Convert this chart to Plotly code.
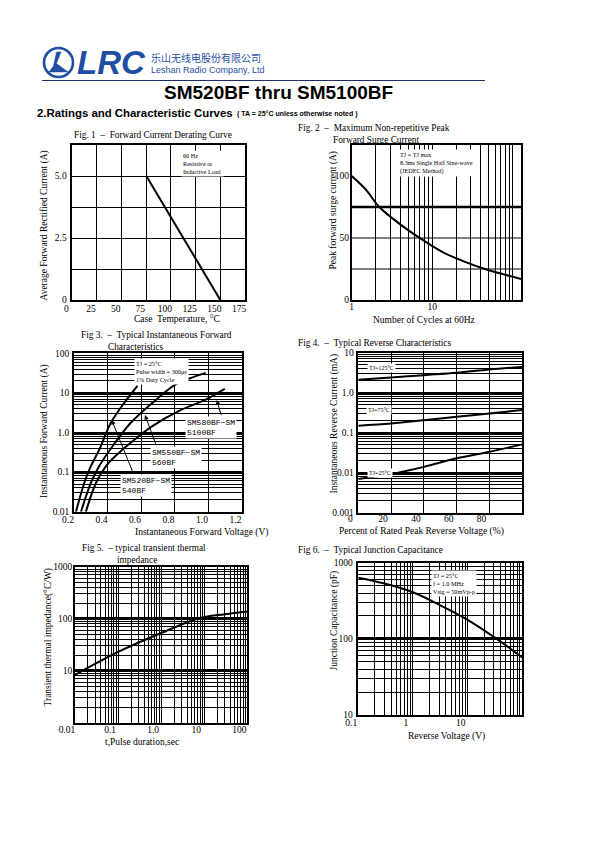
import plotly.graph_objects as go

W, H = 595, 842
def px(v): return v / W
def py(v): return 1 - v / H

# ---------------- data ----------------
FIG1_CASE_TEMP = [75, 150]
FIG1_IO = [5.0, 0.0]
FIG1_XTICKS = [0, 25, 50, 75, 100, 125, 150, 175]
FIG1_YTICKS = [0, 2.5, 5.0]
FIG1_YTICK_TEXT = ['0', '2.5', '5.0']

FIG2_CYCLES = [1, 1.5, 2.2, 4, 7, 14, 25, 45, 80, 126]
FIG2_IFSM = [100, 89, 75, 61, 50, 38, 31, 25, 20.4, 17]
FIG2_XTICKS = [1, 10]
FIG2_YTICKS = [0, 50, 100]

FIG3_VF_520 = [0.212, 0.261, 0.30, 0.351, 0.42, 0.50, 0.579]
FIG3_IF_520 = [0.01, 0.053, 0.14, 0.37, 1.76, 5.6, 15]
FIG3_VF_550 = [0.242, 0.30, 0.35, 0.43, 0.539, 0.668, 0.807, 0.90, 0.986]
FIG3_IF_550 = [0.01, 0.053, 0.14, 0.45, 1.76, 5.6, 16.4, 24, 32]
FIG3_VF_580 = [0.271, 0.331, 0.39, 0.47, 0.549, 0.668, 0.827, 0.986, 1.10]
FIG3_IF_580 = [0.01, 0.053, 0.14, 0.31, 0.6, 1.45, 3.5, 6.8, 12.7]
FIG3_XTICKS = [0.2, 0.4, 0.6, 0.8, 1.0, 1.2]
FIG3_XTICK_TEXT = ['0.2', '0.4', '0.6', '0.8', '1.0', '1.2']
FIG3_YTICKS = [0.01, 0.1, 1, 10, 100]
FIG3_YTICK_TEXT = ['0.01', '0.1', '1.0', '10', '100']

FIG4_PCT = [0, 20, 40, 60, 80, 100]
FIG4_IR_125 = [2.1, 2.4, 2.75, 3.15, 3.8, 4.4]
FIG4_IR_75 = [0.15, 0.17, 0.205, 0.25, 0.30, 0.37]
FIG4_IR_25 = [0.007, 0.0093, 0.014, 0.023, 0.0335, 0.051]
FIG4_XTICKS = [0, 20, 40, 60, 80, 100]
FIG4_XTICK_TEXT = ['0', '20', '40', '60', '80', '']
FIG4_YTICKS = [0.001, 0.01, 0.1, 1, 10]
FIG4_YTICK_TEXT = ['0.001', '0.01', '0.1', '1.0', '10']

FIG5_T = [0.01, 0.06, 0.1, 1, 7, 30, 100]
FIG5_ZTH = [8.3, 18.6, 23, 53, 100, 122, 138]
FIG5_XTICKS = [0.01, 0.1, 1, 10, 100]
FIG5_XTICK_TEXT = ['0.01', '0.1', '1.0', '10', '100']
FIG5_YTICKS = [1, 10, 100, 1000]
FIG5_YTICK_TEXT = ['', '10', '100', '1000']

FIG6_VR = [0.1, 0.29, 1, 3.1, 10, 34, 100]
FIG6_CJ = [636, 536, 409, 278, 178, 100, 57]
FIG6_XTICKS = [0.1, 1, 10, 100]
FIG6_XTICK_TEXT = ['0.1', '1', '10', '']
FIG6_YTICKS = [10, 100, 1000]
FIG6_YTICK_TEXT = ['10', '100', '1000']

# ---------------- styling helpers ----------------
SERIF = 'Liberation Serif'
SANS = 'Liberation Sans'
BLACK = '#000000'
BLUE = '#1f4fa3'


def log_minor(lo, hi):
    return [k * 10 ** e for e in range(lo, hi) for k in range(2, 10)]


def make_axis(dom, anchor, rng, tickvals, ticktext=None, log=False, grid=True,
              gw=1.0, minor=None, mgw=1.0, shift=0, standoff=0):
    ax = dict(domain=dom, anchor=anchor, range=rng, automargin=False,
              type='log' if log else 'linear',
              tickmode='array', tickvals=tickvals,
              ticktext=ticktext if ticktext is not None else [str(v) for v in tickvals],
              showgrid=grid, gridcolor=BLACK, gridwidth=gw,
              showline=True, mirror=True, linecolor=BLACK, linewidth=1.5,
              ticks='', ticklen=0, zeroline=False, fixedrange=True,
              tickfont=dict(family=SERIF, size=9.5, color=BLACK),
              ticklabelstandoff=standoff)
    if shift:
        ax['ticklabelshift'] = shift
    if minor is not None:
        ax['minor'] = dict(tickmode='array', tickvals=minor, showgrid=True,
                           gridcolor=BLACK, gridwidth=mgw, ticks='')
    return ax


def xd(a, b): return [px(a), px(b)]
def yd(top, bottom): return [py(bottom), py(top)]


fig = go.Figure()
line = dict(color=BLACK, width=2)

fig.add_trace(go.Scatter(x=FIG1_CASE_TEMP, y=FIG1_IO, mode='lines', line=line,
                         xaxis='x', yaxis='y', showlegend=False))
fig.add_trace(go.Scatter(x=FIG2_CYCLES, y=FIG2_IFSM, mode='lines', line=line,
                         line_shape='spline', xaxis='x2', yaxis='y2', showlegend=False))
for vx, iy in [(FIG3_VF_520, FIG3_IF_520), (FIG3_VF_550, FIG3_IF_550), (FIG3_VF_580, FIG3_IF_580)]:
    fig.add_trace(go.Scatter(x=vx, y=iy, mode='lines', line=line, line_shape='spline',
                             xaxis='x3', yaxis='y3', showlegend=False))
for ir in [FIG4_IR_125, FIG4_IR_75, FIG4_IR_25]:
    fig.add_trace(go.Scatter(x=FIG4_PCT, y=ir, mode='lines', line=line, line_shape='spline',
                             xaxis='x4', yaxis='y4', showlegend=False))
fig.add_trace(go.Scatter(x=FIG5_T, y=FIG5_ZTH, mode='lines', line=line, line_shape='spline',
                         xaxis='x5', yaxis='y5', showlegend=False))
fig.add_trace(go.Scatter(x=FIG6_VR, y=FIG6_CJ, mode='lines', line=line, line_shape='spline',
                         xaxis='x6', yaxis='y6', showlegend=False))

layout = dict(
    template='none',
    width=W, height=H, margin=dict(l=0, r=0, t=0, b=0, pad=0), autosize=False,
    paper_bgcolor='white', plot_bgcolor='white', showlegend=False,
    xaxis=make_axis(xd(72.3, 245), 'y', [0, 175], FIG1_XTICKS, gw=1.2, shift=-6, standoff=-1),
    yaxis=make_axis(yd(145, 300), 'x', [0, 6.25], FIG1_YTICKS, FIG1_YTICK_TEXT, gw=1.2,
                    minor=[1.25, 3.75], mgw=1.2, standoff=2),
    xaxis2=make_axis(xd(351.7, 521), 'y2', [0, 2.1], FIG2_XTICKS, log=True, gw=1.2,
                     minor=log_minor(0, 2) + [100], mgw=1.2, standoff=-3),
    yaxis2=make_axis(yd(145, 300), 'x2', [0, 125], FIG2_YTICKS, grid=False, standoff=-1),
    xaxis3=make_axis(xd(74, 241.5), 'y3', [0.2, 1.2], FIG3_XTICKS, FIG3_XTICK_TEXT, gw=1.2,
                     shift=-6, standoff=-2),
    yaxis3=make_axis(yd(353.3, 511.7), 'x3', [-2, 2], FIG3_YTICKS, FIG3_YTICK_TEXT, log=True,
                     gw=2.2, minor=log_minor(-2, 2), mgw=1, standoff=1),
    xaxis4=make_axis(xd(358.3, 522.3), 'y4', [0, 100], FIG4_XTICKS, FIG4_XTICK_TEXT, gw=1.2,
                     shift=-8, standoff=-4),
    yaxis4=make_axis(yd(352.7, 512.7), 'x4', [-3, 1], FIG4_YTICKS, FIG4_YTICK_TEXT, log=True,
                     gw=2, minor=log_minor(-3, 1), mgw=1, standoff=1),
    xaxis5=make_axis(xd(75, 247.3), 'y5', [-2, 2], FIG5_XTICKS, FIG5_XTICK_TEXT, log=True, gw=1,
                     minor=log_minor(-2, 2), mgw=1, shift=-8, standoff=-3),
    yaxis5=make_axis(yd(566.7, 722.7), 'x5', [0, 3], FIG5_YTICKS, FIG5_YTICK_TEXT, log=True,
                     gw=2.6, minor=log_minor(0, 3), mgw=1, standoff=-1),
    xaxis6=make_axis(xd(358.3, 522.3), 'y6', [-1, 2], FIG6_XTICKS, FIG6_XTICK_TEXT, log=True, gw=1,
                     minor=log_minor(-1, 2), mgw=1, shift=-7, standoff=-2),
    yaxis6=make_axis(yd(562.7, 715), 'x6', [1, 3], FIG6_YTICKS, FIG6_YTICK_TEXT, log=True,
                     gw=2.6, minor=log_minor(1, 3), mgw=1, standoff=2),
)

# ---------------- shapes ----------------
FIG2_GRID_Y = [25, 50]
shapes = []
for gy in FIG2_GRID_Y:
    shapes.append(dict(type='line', xref='x2 domain', yref='y2', x0=0, x1=1, y0=gy, y1=gy,
                       line=dict(color=BLACK, width=1.2), layer='below'))
shapes.append(dict(type='line', xref='x2 domain', yref='y2', x0=0, x1=1, y0=75, y1=75,
                   line=dict(color=BLACK, width=2.6), layer='below'))
# header rule
shapes.append(dict(type='line', xref='paper', yref='paper', x0=px(42), x1=px(485),
                   y0=py(80.5), y1=py(80.5), line=dict(color='#1c2a66', width=1.2)))
# logo circle + emblem
shapes.append(dict(type='circle', xref='paper', yref='paper', x0=px(44), x1=px(73),
                   y0=py(77), y1=py(48), line=dict(color=BLUE, width=2.6)))
emblem = [(56.5, 52), (61, 52), (56.5, 63.5), (68, 72), (49, 72), (53.5, 66)]
path = 'M ' + ' L '.join(f'{px(a):.5f},{py(b):.5f}' for a, b in emblem) + ' Z'
shapes.append(dict(type='path', xref='paper', yref='paper', path=path,
                   fillcolor=BLUE, line=dict(color=BLUE, width=0.5)))
layout['shapes'] = shapes

# ---------------- annotations ----------------
ann = []


def txt(x, y, text, size=9.5, family=SERIF, xanchor='center', angle=0, color=BLACK,
        bg=None, yanchor='middle', align='left', bold=False):
    if bold:
        text = f'<b>{text}</b>'
    d = dict(x=px(x), y=py(y), xref='paper', yref='paper', text=text, showarrow=False,
             xanchor=xanchor, yanchor=yanchor, textangle=angle, align=align,
             font=dict(family=family, size=size, color=color), borderpad=1)
    if bg:
        d['bgcolor'] = bg
    ann.append(d)


# header
txt(111, 62, '<b><i>LRC</i></b>', size=33, family=SANS, color=BLUE)
txt(149, 57, '乐山无线电股份有限公司', size=10, family='Noto Sans CJK SC', xanchor='left', color=BLUE)
txt(149, 70, 'Leshan Radio Company, Ltd', size=9, family=SANS, xanchor='left', color=BLUE)
txt(278, 92, 'SM520BF thru SM5100BF', size=19, family=SANS, bold=True)
txt(35, 113.5, '2.Ratings and Characteristic Curves', size=11.4, family=SANS, xanchor='left', bold=True)
txt(235, 114, '( TA = 25°C unless otherwise noted )', size=7, family=SANS, xanchor='left', bold=True)

# figure titles
txt(153, 135, 'Fig. 1  –  Forward Current Derating Curve', size=9.3)
txt(296, 127.5, 'Fig. 2  –  Maximum Non-repetitive Peak', size=9.3, xanchor='left')
txt(331, 140, 'Forward Surge Current', size=9.3, xanchor='left')
txt(79, 335, 'Fig 3.  –  Typical Instantaneous Forward', size=9.3, xanchor='left')
txt(106, 347, 'Characteristics', size=9.3, xanchor='left')
txt(296, 343, 'Fig 4.  –  Typical Reverse Characteristics', size=9.3, xanchor='left')
txt(80, 547.5, 'Fig 5.  – typical transient thermal', size=9.3, xanchor='left')
txt(115, 560, 'impedance', size=9.3, xanchor='left')
txt(296, 550, 'Fig 6.  –  Typical Junction Capacitance', size=9.3, xanchor='left')

# axis titles
txt(43.5, 226, 'Average Forward Rectified Current (A)', size=9.5, angle=-90)
txt(177, 319, 'Case  Temperature, °C', size=9.5)
txt(333.5, 210, 'Peak forward surge current (A)', size=9.5, angle=-90)
txt(424, 319.5, 'Number of Cycles at 60Hz', size=9.5)
txt(44, 431, 'Instantaneous Forward Current (A)', size=9.5, angle=-90)
txt(201, 532, 'Instantaneous Forward Voltage (V)', size=9.5)
txt(333.5, 424, 'Instantaneous Reverse Current (mA)', size=9.5, angle=-90)
txt(421, 531.5, 'Percent of Rated Peak Reverse Voltage (%)', size=9.5)
txt(47.5, 637, 'Transient thermal impedance(°C/W)', size=9.5, angle=-90)
txt(142, 741.5, 't,Pulse duration,sec', size=9.5)
txt(333.5, 621, 'Junction Capacitance (pF)', size=9.5, angle=-90)
txt(446, 736.5, 'Reverse Voltage (V)', size=9.5)

# boxed notes
txt(181, 150, '60 Hz<br>Resistive or<br>Inductive Load', size=6.2, xanchor='left',
    yanchor='top', bg='white')
txt(398, 149, 'TJ = TJ max<br>8.3ms Single Half Sine-wave<br>(JEDEC Method)', size=6.2,
    xanchor='left', yanchor='top', bg='white')
txt(134, 358, 'TJ = 25°C<br>Pulse width = 300μs<br>1% Duty Cycle', size=6.2,
    xanchor='left', yanchor='top', bg='white')
txt(431, 570, 'TJ = 25°C<br>f = 1.0 MHz<br>Vsig = 50mVp-p', size=6.2,
    xanchor='left', yanchor='top', bg='white')
txt(367, 368, 'TJ=125°C', size=6, xanchor='left', bg='white')
txt(366, 410, 'TJ=75°C', size=6, xanchor='left', bg='white')
txt(367, 473, 'TJ=25°C', size=6, xanchor='left', bg='white')

MONO = 'Liberation Mono'
txt(185, 427.5, 'SM580BF~SM<br>5100BF', size=8, family=MONO, xanchor='left', bg='white')
txt(150, 457, 'SM550BF~SM<br>560BF', size=8, family=MONO, xanchor='left', bg='white')
txt(120, 485, 'SM520BF~SM<br>540BF', size=8, family=MONO, xanchor='left', bg='white')

# arrows (head, tail) in page pixels
for (hx, hy), (tx, ty) in [((216.7, 400), (221.7, 416.7)),
                           ((145, 415), (156.7, 446.7)),
                           ((111.7, 420), (133.3, 473.3))]:
    ann.append(dict(x=px(hx), y=py(hy), xref='paper', yref='paper', text='',
                    showarrow=True, ax=tx - hx, ay=ty - hy, arrowhead=2,
                    arrowsize=0.9, arrowwidth=1, arrowcolor=BLACK))

layout['annotations'] = ann
fig.update_layout(**layout)
fig.write_html('out.html',
               config={'displayModeBar': False, 'responsive': False},
               post_script="document.body.style.margin='0';document.body.style.padding='0';"
                           "document.body.style.overflow='hidden';")
